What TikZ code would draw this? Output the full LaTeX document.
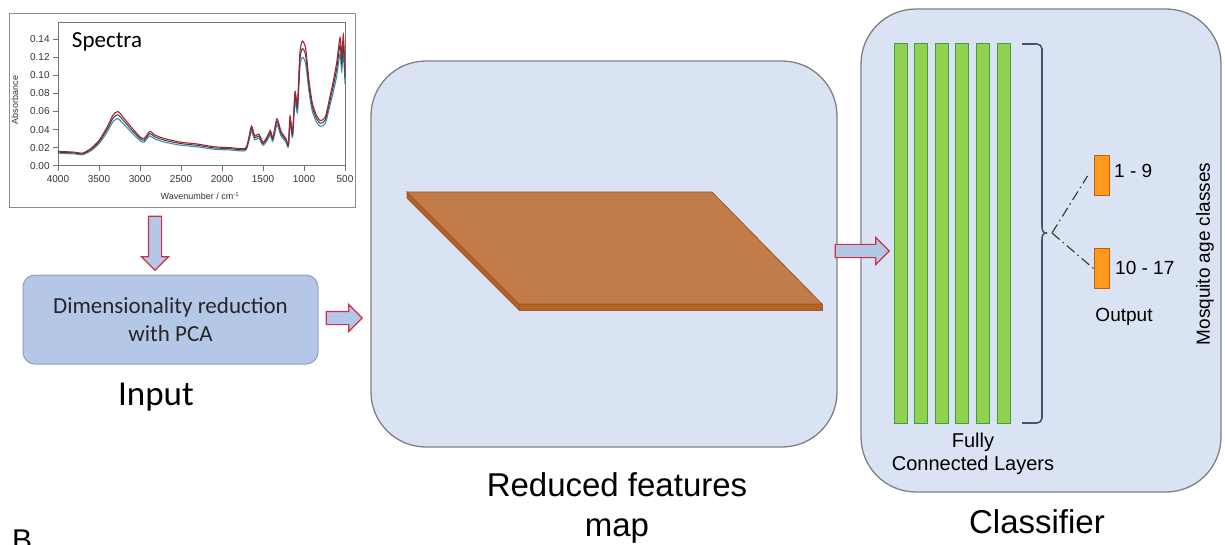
\documentclass[tikz,border=0pt]{standalone}
\usepackage{fontspec}
\setmainfont{Liberation Sans}
\newfontfamily\carlito{Carlito}
\usepackage{tikz}
\usetikzlibrary{shapes.arrows}

\definecolor{panelfill}{HTML}{DAE3F3}
\definecolor{panelline}{HTML}{808080}
\definecolor{pcafill}{HTML}{B4C7E7}
\definecolor{pcaline}{HTML}{8EA0BD}
\definecolor{arrowfill}{HTML}{B4C7E7}
\definecolor{arrowline}{HTML}{C8334A}
\definecolor{layerfill}{HTML}{92D050}
\definecolor{layerline}{HTML}{3E9E48}
\definecolor{outfill}{HTML}{FF9A1A}
\definecolor{outline}{HTML}{C55A11}
\definecolor{slabtop}{HTML}{C27C4A}
\definecolor{slabside}{HTML}{B8621F}
\definecolor{slabedge}{HTML}{9A5A2B}
\definecolor{bracecol}{HTML}{44546A}
\definecolor{specred}{HTML}{A3262E}
\definecolor{specblue}{HTML}{3A8FB0}

\newcommand\spectrum[1]{\draw[#1] plot[smooth,tension=0.4] coordinates {
  (4.0,1.6) (3.8,1.5) (3.7,1.4) (3.6,1.9) (3.5,2.8) (3.4,4.3) (3.33,5.6)
  (3.27,6.0) (3.2,5.3) (3.1,4.2) (3.0,3.2) (2.95,3.0) (2.88,3.8) (2.82,3.4)
  (2.7,3.0) (2.5,2.6) (2.3,2.4) (2.1,2.1) (1.9,2.0) (1.72,1.9) (1.68,2.8)
  (1.64,4.4) (1.6,3.3) (1.55,3.5) (1.5,2.6) (1.45,3.2) (1.41,3.9) (1.38,3.1)
  (1.33,5.2) (1.28,3.8) (1.22,3.0) (1.19,2.4) (1.17,5.5) (1.14,3.6) (1.11,8.2)
  (1.08,6.8) (1.05,12.5) (1.02,13.8) (0.98,13.0) (0.94,9.5) (0.9,7.0) (0.85,5.6)
  (0.8,5.0) (0.74,5.4) (0.68,7.8) (0.64,9.5) (0.6,11.5) (0.56,14.2) (0.54,12.0)
  (0.52,14.5) (0.5,10.4)};}

\begin{document}
\begin{tikzpicture}[x=1pt,y=-1pt]
\tikzset{panel/.style=
            {draw=panelline,fill=panelfill,line width=1.3pt,rounded corners=55pt,inner sep=0pt},
         blockarrow/.style=
            {single arrow,draw=arrowline,fill=arrowfill,line width=1.2pt,
             inner xsep=0pt,inner ysep=6pt,single arrow head extend=7pt},
         layer/.style=
            {draw=layerline,fill=layerfill,line width=1pt,minimum width=13pt,
             minimum height=379pt,inner sep=0pt},
         outbox/.style=
            {draw=outline,fill=outfill,line width=1pt,minimum width=15pt,
             minimum height=40pt,inner sep=0pt},
         lbl/.style={font=\fontsize{19}{22}\selectfont,inner sep=0pt},
         caption/.style={font=\fontsize{33}{40}\selectfont,align=center,inner sep=0pt},
         ticklbl/.style={font=\fontsize{10}{12}\selectfont,text=black!80,inner sep=0pt}}
\useasboundingbox (0,0) rectangle (1225,545);

\node[draw=black!45,fill=white,line width=1pt,minimum width=346pt,minimum height=194pt,
      inner sep=0pt] (spec) at (182,111) {};
\begin{scope}[shift={(386,165.7)},x={(-82pt,0pt)},y={(0pt,9.03pt)}]
  \draw[black!55,line width=0.8pt] (4,0) rectangle (0.5,15.9);
  \foreach \a/\l in {0/0.00,2/0.02,4/0.04,6/0.06,8/0.08,10/0.10,12/0.12,14/0.14}
    {\draw[black!55,line width=0.8pt] (4,\a) -- (4.06,\a);
     \node[ticklbl,anchor=east] at (4.1,\a) {\l};}
  \foreach \w/\l in {4/4000,3.5/3500,3/3000,2.5/2500,2/2000,1.5/1500,1/1000,0.5/500}
    {\draw[black!55,line width=0.8pt] (\w,0) -- (\w,-0.55);
     \node[ticklbl,anchor=north] at (\w,-1.1) {\l};}
  \spectrum{specblue,line width=1.1pt,yscale=0.87}
  \spectrum{black!75,line width=1pt,yscale=0.94}
  \spectrum{specred,line width=1.1pt}
\end{scope}
\node[font=\carlito\fontsize{23}{26}\selectfont] (spectitle) at (107,42) {Spectra};
\node[font=\fontsize{9}{11}\selectfont,text=black!80,rotate=90] (ylbl) at (15,100) {Absorbance};
\node[font=\fontsize{9}{11}\selectfont,text=black!80] (xlbl) at (200,196) {Wavenumber / cm\textsuperscript{-1}};

\node[blockarrow,rotate=-90,minimum height=54pt] (a1) at (155,240) {};

\node[draw=pcaline,fill=pcafill,line width=1pt,rounded corners=12pt,minimum width=295pt,
      minimum height=89pt,align=center,text=black!85,
      font=\carlito\fontsize{23}{28}\selectfont] (pca) at (170.5,319.5)
      {Dimensionality reduction\\with PCA};
\node[font=\carlito\fontsize{35}{40}\selectfont,inner sep=0pt] (inp) at (156,397) {Input};
\node[font=\fontsize{30}{34}\selectfont,anchor=north west,inner sep=0pt] (blbl) at (12,530) {B};

\node[blockarrow,minimum height=36pt] (a2) at (341,318) {};

\node[panel,minimum width=466pt,minimum height=386pt] (fmap) at (604,254) {};
\fill[slabside,draw=slabedge,line width=0.8pt] (407,192) -- (519,304) -- (519,310) -- (407,198) -- cycle;
\fill[slabside,draw=slabedge,line width=0.8pt] (519,304) -- (822,304) -- (822,310) -- (519,310) -- cycle;
\fill[slabtop,draw=slabedge,line width=0.8pt] (407,192) -- (712,192) -- (822,304) -- (519,304) -- cycle;
\node[caption] (fmaplbl) at (617,508) {Reduced features\\map};

\node[panel,minimum width=360pt,minimum height=483pt] (clf) at (1041,250.5) {};
\node[blockarrow,minimum height=54pt] (a3) at (859,251) {};
\foreach \i in {1,...,6}
  \node[layer] (fc\i) at (880+20.6*\i,233.5) {};
\draw[bracecol,line width=1.6pt,rounded corners=5pt] (1022,44) -- (1042,44) -- (1042,222)
  .. controls (1042,231) and (1044,233) .. (1050,233)
  .. controls (1044,233) and (1042,235) .. (1042,244) -- (1042,423) -- (1022,423);
\coordinate (cusp) at (1052,233);
\node[outbox] (out1) at (1101.5,176) {};
\node[outbox] (out2) at (1101.5,268.5) {};
\draw[black!75,line width=1.2pt,dash pattern=on 10pt off 4pt on 1.5pt off 4pt]
  (cusp) -- ([xshift=-6pt]out1.west);
\draw[black!75,line width=1.2pt,dash pattern=on 10pt off 4pt on 1.5pt off 4pt]
  (cusp) -- (out2.west);
\node[lbl,anchor=west] (l19) at (1114,171) {1 - 9};
\node[lbl,anchor=west] (l1017) at (1115,268) {10 - 17};
\node[lbl] (outlbl) at (1124,317) {Output};
\node[lbl,rotate=90] (agelbl) at (1205,254) {Mosquito age classes};
\node[font=\fontsize{20}{23}\selectfont,align=center,inner sep=0pt,anchor=north] (fclbl)
  at (973,433) {Fully\\Connected Layers};
\node[caption] (clflbl) at (1037,522) {Classifier};
\end{tikzpicture}
\end{document}
